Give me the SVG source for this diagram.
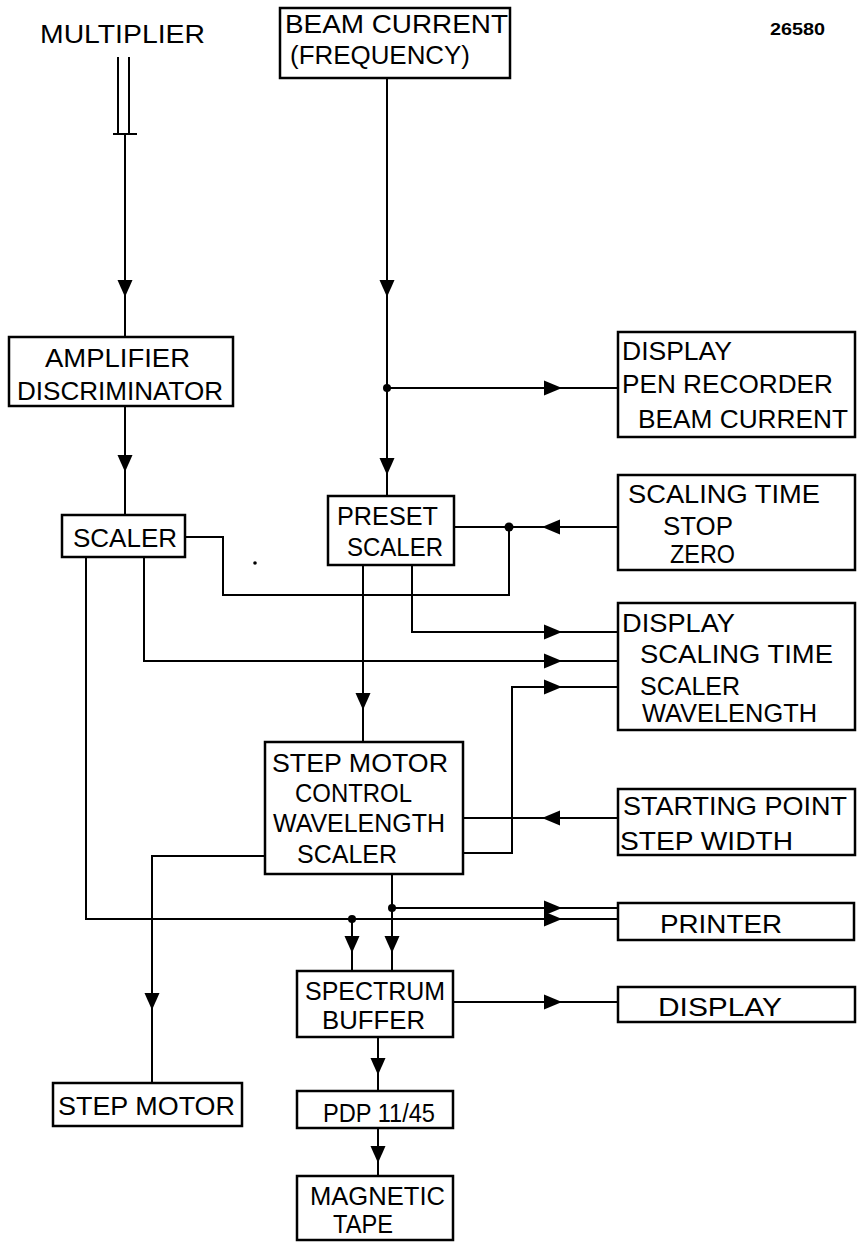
<svg xmlns="http://www.w3.org/2000/svg" xmlns:xlink="http://www.w3.org/1999/xlink" width="859" height="1242" viewBox="0 0 859 1242">
<style>
  .box { fill: #fff; stroke: #000; stroke-width: 2.5; }
  .ln { fill: none; stroke: #000; stroke-width: 2; }
  .t { font-family: "Liberation Sans", Arial, sans-serif; font-size: 26px; fill: #000; }
  .num { font-family: "Liberation Sans", Arial, sans-serif; font-size: 16px; font-weight: bold; fill: #000; }
</style>
<defs>
  <polygon id="ar" points="-18,-7.5 0,0 -18,7.5" fill="#000"/>
  <polygon id="al" points="18,-7.5 0,0 18,7.5" fill="#000"/>
  <polygon id="ad" points="-7.5,-17 0,0 7.5,-17" fill="#000"/>
</defs>
<rect width="859" height="1242" fill="#fff"/>

<g id="connectors">
  <!-- multiplier double line -->
  <path class="ln" d="M118 57 V134 M129 57 V134"/>
  <path class="ln" d="M113 134 H137" stroke-width="3"/>
  <path class="ln" d="M125 134 V337"/>
  <!-- beam current -->
  <path class="ln" d="M387 78 V496"/>
  <path class="ln" d="M387 388 H618"/>
  <circle cx="387" cy="388" r="4"/>
  <!-- amp to scaler -->
  <path class="ln" d="M125 406 V515" stroke-width="2.5"/>
  <!-- scaler right to preset junction -->
  <path class="ln" d="M185 537 H223 V595 H509 V527"/>
  <path class="ln" d="M454 527 H618"/>
  <circle cx="509" cy="527" r="4.5"/>
  <!-- preset bottom -->
  <path class="ln" d="M412 565 V632 H618"/>
  <path class="ln" d="M363 565 V742"/>
  <!-- scaler bottom lines -->
  <path class="ln" d="M144 557 V661 H618"/>
  <path class="ln" d="M86 557 V919 H618"/>
  <!-- step motor control right -->
  <path class="ln" d="M463 853 H512 V687 H618" stroke-width="2.5"/>
  <path class="ln" d="M618 818 H463" stroke-width="2.5"/>
  <!-- step motor control left -->
  <path class="ln" d="M265 856 H152 V1083" stroke-width="2.5"/>
  <!-- step motor control bottom -->
  <path class="ln" d="M392 874 V971"/>
  <path class="ln" d="M392 908 H618" stroke-width="2.5"/>
  <circle cx="392" cy="908" r="4"/>
  <path class="ln" d="M352 919 V971"/>
  <circle cx="352" cy="919" r="4"/>
  <!-- spectrum buffer -->
  <path class="ln" d="M453 1002 H618"/>
  <path class="ln" d="M378 1037 V1091" stroke-width="2.5"/>
  <path class="ln" d="M378 1128 V1176" stroke-width="2.5"/>
  <!-- arrowheads -->
  <use xlink:href="#ad" x="125" y="297"/>
  <use xlink:href="#ad" x="387" y="297"/>
  <use xlink:href="#ad" x="125" y="472"/>
  <use xlink:href="#ad" x="387" y="475"/>
  <use xlink:href="#ad" x="363" y="710"/>
  <use xlink:href="#ad" x="152" y="1010"/>
  <use xlink:href="#ad" x="352" y="953"/>
  <use xlink:href="#ad" x="392" y="953"/>
  <use xlink:href="#ad" x="378" y="1075"/>
  <use xlink:href="#ad" x="378" y="1163"/>
  <use xlink:href="#ar" x="562" y="388"/>
  <use xlink:href="#ar" x="562" y="632"/>
  <use xlink:href="#ar" x="562" y="661"/>
  <use xlink:href="#ar" x="562" y="687"/>
  <use xlink:href="#ar" x="562" y="908"/>
  <use xlink:href="#ar" x="562" y="919"/>
  <use xlink:href="#ar" x="562" y="1002"/>
  <use xlink:href="#al" x="542" y="527"/>
  <use xlink:href="#al" x="542" y="818"/>
  <circle cx="255" cy="563" r="1.8"/>
</g>

<g id="multiplier">
  <text class="t" x="40" y="43" font-size="28" textLength="165" lengthAdjust="spacingAndGlyphs">MULTIPLIER</text>
</g>
<g id="figno">
  <text class="num" x="770" y="35" textLength="55" lengthAdjust="spacingAndGlyphs">26580</text>
</g>
<g id="beam-current">
  <rect class="box" x="280" y="8" width="230" height="70"/>
  <text class="t" x="285" y="33" textLength="223" lengthAdjust="spacingAndGlyphs">BEAM CURRENT</text>
  <text class="t" x="290" y="64" textLength="180" lengthAdjust="spacingAndGlyphs">(FREQUENCY)</text>
</g>
<g id="amplifier">
  <rect class="box" x="9" y="337" width="224" height="69"/>
  <text class="t" x="45" y="367" textLength="145" lengthAdjust="spacingAndGlyphs">AMPLIFIER</text>
  <text class="t" x="17" y="400" textLength="206" lengthAdjust="spacingAndGlyphs">DISCRIMINATOR</text>
</g>
<g id="scaler">
  <rect class="box" x="62" y="515" width="123" height="42"/>
  <text class="t" x="73" y="547" textLength="104" lengthAdjust="spacingAndGlyphs">SCALER</text>
</g>
<g id="preset-scaler">
  <rect class="box" x="328" y="496" width="126" height="69"/>
  <text class="t" x="337" y="525" textLength="101" lengthAdjust="spacingAndGlyphs">PRESET</text>
  <text class="t" x="347" y="556" textLength="96" lengthAdjust="spacingAndGlyphs">SCALER</text>
</g>
<g id="display-pen">
  <rect class="box" x="618" y="332" width="237" height="105"/>
  <text class="t" x="622" y="360" textLength="110" lengthAdjust="spacingAndGlyphs">DISPLAY</text>
  <text class="t" x="622" y="393" textLength="211" lengthAdjust="spacingAndGlyphs">PEN RECORDER</text>
  <text class="t" x="638" y="428" textLength="210" lengthAdjust="spacingAndGlyphs">BEAM CURRENT</text>
</g>
<g id="scaling-time">
  <rect class="box" x="618" y="475" width="237" height="95"/>
  <text class="t" x="628" y="503" textLength="192" lengthAdjust="spacingAndGlyphs">SCALING TIME</text>
  <text class="t" x="663" y="535" textLength="70" lengthAdjust="spacingAndGlyphs">STOP</text>
  <text class="t" x="670" y="563" textLength="65" lengthAdjust="spacingAndGlyphs">ZERO</text>
</g>
<g id="display-scaling">
  <rect class="box" x="618" y="603" width="237" height="127"/>
  <text class="t" x="622" y="632" textLength="113" lengthAdjust="spacingAndGlyphs">DISPLAY</text>
  <text class="t" x="640" y="663" textLength="193" lengthAdjust="spacingAndGlyphs">SCALING TIME</text>
  <text class="t" x="640" y="695" textLength="100" lengthAdjust="spacingAndGlyphs">SCALER</text>
  <text class="t" x="642" y="722" textLength="175" lengthAdjust="spacingAndGlyphs">WAVELENGTH</text>
</g>
<g id="step-motor-control">
  <rect class="box" x="265" y="742" width="198" height="132"/>
  <text class="t" x="272" y="772" textLength="176" lengthAdjust="spacingAndGlyphs">STEP MOTOR</text>
  <text class="t" x="295" y="802" textLength="117" lengthAdjust="spacingAndGlyphs">CONTROL</text>
  <text class="t" x="273" y="832" textLength="172" lengthAdjust="spacingAndGlyphs">WAVELENGTH</text>
  <text class="t" x="297" y="863" textLength="100" lengthAdjust="spacingAndGlyphs">SCALER</text>
</g>
<g id="starting-point">
  <rect class="box" x="618" y="789" width="237" height="66"/>
  <text class="t" x="623" y="815" textLength="224" lengthAdjust="spacingAndGlyphs">STARTING POINT</text>
  <text class="t" x="620" y="850" textLength="173" lengthAdjust="spacingAndGlyphs">STEP WIDTH</text>
</g>
<g id="printer">
  <rect class="box" x="618" y="903" width="236" height="37"/>
  <text class="t" x="660" y="933" textLength="122" lengthAdjust="spacingAndGlyphs">PRINTER</text>
</g>
<g id="display-bottom">
  <rect class="box" x="618" y="987" width="237" height="35"/>
  <text class="t" x="658" y="1016" textLength="124" lengthAdjust="spacingAndGlyphs">DISPLAY</text>
</g>
<g id="spectrum-buffer">
  <rect class="box" x="297" y="971" width="156" height="66"/>
  <text class="t" x="305" y="1000" textLength="140" lengthAdjust="spacingAndGlyphs">SPECTRUM</text>
  <text class="t" x="322" y="1029" textLength="103" lengthAdjust="spacingAndGlyphs">BUFFER</text>
</g>
<g id="pdp">
  <rect class="box" x="297" y="1091" width="156" height="37"/>
  <text class="t" x="323" y="1122" textLength="112" lengthAdjust="spacingAndGlyphs">PDP 11/45</text>
</g>
<g id="magnetic-tape">
  <rect class="box" x="297" y="1176" width="156" height="64"/>
  <text class="t" x="310" y="1205" textLength="135" lengthAdjust="spacingAndGlyphs">MAGNETIC</text>
  <text class="t" x="333" y="1233" textLength="60" lengthAdjust="spacingAndGlyphs">TAPE</text>
</g>
<g id="step-motor">
  <rect class="box" x="53" y="1083" width="189" height="43"/>
  <text class="t" x="58" y="1115" textLength="177" lengthAdjust="spacingAndGlyphs">STEP MOTOR</text>
</g>
</svg>
